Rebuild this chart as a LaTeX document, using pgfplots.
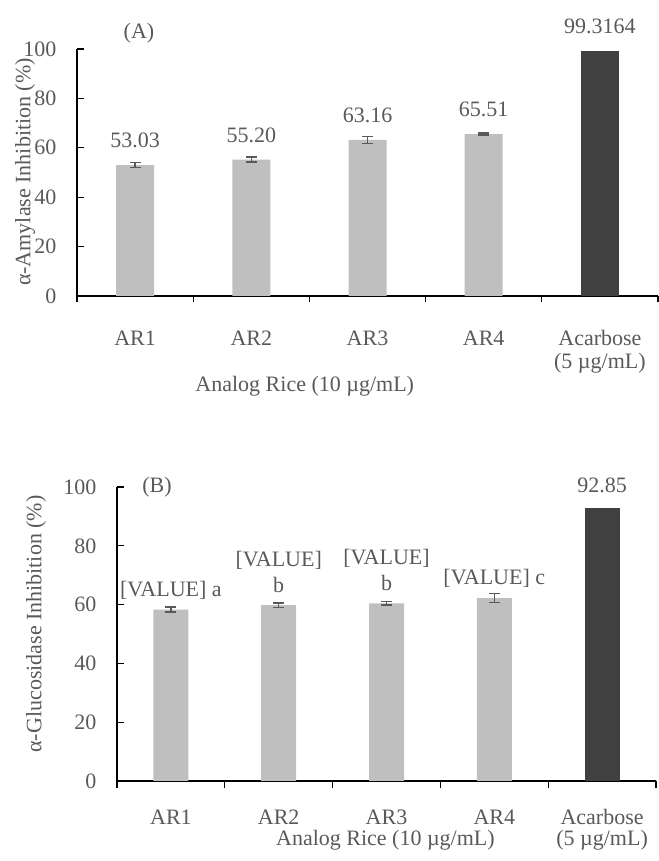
\documentclass[border=0pt]{standalone}
\usepackage{pgfplots}
\pgfplotsset{compat=1.18}
\usepackage{fontspec}
\setmainfont{Liberation Serif}
\definecolor{lightbar}{HTML}{BFBFBF}
\definecolor{darkbar}{HTML}{404040}
\definecolor{txt}{HTML}{595959}
\definecolor{errc}{HTML}{595959}
\newcommand{\fs}{\fontsize{22}{26}\selectfont}
\begin{document}
\begin{tikzpicture}
\path[use as bounding box] (0pt,0pt) rectangle (658pt,861pt);
\pgfplotsset{
 base/.style={
  scale only axis, xmin=0.5, xmax=5.5, ymin=0, ymax=100,
  axis x line*=bottom, axis y line*=left,
  axis line style={black, line width=1.3pt, -},
  ytick={0,20,...,100}, xtick={0.5,1.5,...,5.5}, xticklabels={},
  tick align=inside, major tick length=6.5pt,
  tick style={black, line width=1.2pt},
  yticklabel style={font=\fs, text=txt, xshift=-17pt},
  /pgf/number format/assume math mode=true,
  clip=false, ybar,
  nodes near coords, point meta=explicit symbolic,
  every node near coord/.append style={font=\fs, text=txt, anchor=south, inner sep=0pt, align=center},
 },
 errs/.style={fill=lightbar, draw=none, bar shift=0pt,
  error bars/.cd, y dir=both, y explicit,
  error bar style={errc, line width=1.5pt},
  error mark options={rotate=90, mark size=5.5pt, errc, line width=1.5pt}},
}
% ---------- Panel A ----------
\begin{axis}[base, at={(77pt,565pt)}, anchor=south west, width=581pt, height=247pt,
  bar width=38pt, every node near coord/.append style={yshift=17pt}]
\addplot[errs] table[x=x, y=y, y error=e, meta=lab, col sep=comma] {
x,y,e,lab
1,53.03,1.0,53.03
2,55.20,1.0,55.20
3,63.16,1.4,63.16
4,65.51,0.4,65.51
};
\addplot[fill=darkbar, draw=none, bar shift=0pt] table[x=x, y=y, meta=lab, col sep=comma] {
x,y,lab
5,99.3164,99.3164
};
\node[font=\fs, text=txt] at (axis cs:1,0) [yshift=-42pt] {AR1};
\node[font=\fs, text=txt] at (axis cs:2,0) [yshift=-42pt] {AR2};
\node[font=\fs, text=txt] at (axis cs:3,0) [yshift=-42pt] {AR3};
\node[font=\fs, text=txt] at (axis cs:4,0) [yshift=-42pt] {AR4};
\node[font=\fs, text=txt] at (axis cs:5,0) [yshift=-42pt] {Acarbose};
\node[font=\fs, text=txt] at (axis cs:5,0) [yshift=-67pt] {(5 µg/mL)};
\node[font=\fs, text=txt] at (axis cs:2.46,0) [yshift=-90pt] {Analog Rice (10 µg/mL)};
\end{axis}
% ---------- Panel B ----------
\begin{axis}[base, at={(117pt,80pt)}, anchor=south west, width=539pt, height=294pt,
  bar width=35pt, every node near coord/.append style={yshift=10pt}]
\addplot[errs] table[x=x, y=y, y error=e, meta=lab, col sep=comma] {
x,y,e,lab
1,58.3,0.9,{[VALUE] a}
2,59.8,0.8,{[VALUE]\\b\vphantom{[}}
3,60.4,0.6,{[VALUE]\\b\vphantom{[}}
4,62.2,1.5,{[VALUE] c}
};
\addplot[fill=darkbar, draw=none, bar shift=0pt, every node near coord/.append style={yshift=5pt}] table[x=x, y=y, meta=lab, col sep=comma] {
x,y,lab
5,92.85,92.85
};
\node[font=\fs, text=txt] at (axis cs:1,0) [yshift=-36pt] {AR1};
\node[font=\fs, text=txt] at (axis cs:2,0) [yshift=-36pt] {AR2};
\node[font=\fs, text=txt] at (axis cs:3,0) [yshift=-36pt] {AR3};
\node[font=\fs, text=txt] at (axis cs:4,0) [yshift=-36pt] {AR4};
\node[font=\fs, text=txt] at (axis cs:5,0) [yshift=-36pt] {Acarbose};
\node[font=\fs, text=txt] at (axis cs:5,0) [yshift=-59pt] {(5 µg/mL)};
\node[font=\fs, text=txt] at (axis cs:2.99,0) [yshift=-59pt] {Analog Rice (10 µg/mL)};
\end{axis}
% ---------- titles and axis labels ----------
\node[font=\fs, text=txt] at (139pt,828pt) {(A)};
\node[font=\fs, text=txt] at (157pt,374pt) {(B)};
\node[font=\fs, text=txt, rotate=90] at (25pt,689pt) {α-Amylase Inhibition (\%)};
\node[font=\fs, text=txt, rotate=90] at (36pt,237pt) {α-Glucosidase Inhibition (\%)};
\end{tikzpicture}
\end{document}
